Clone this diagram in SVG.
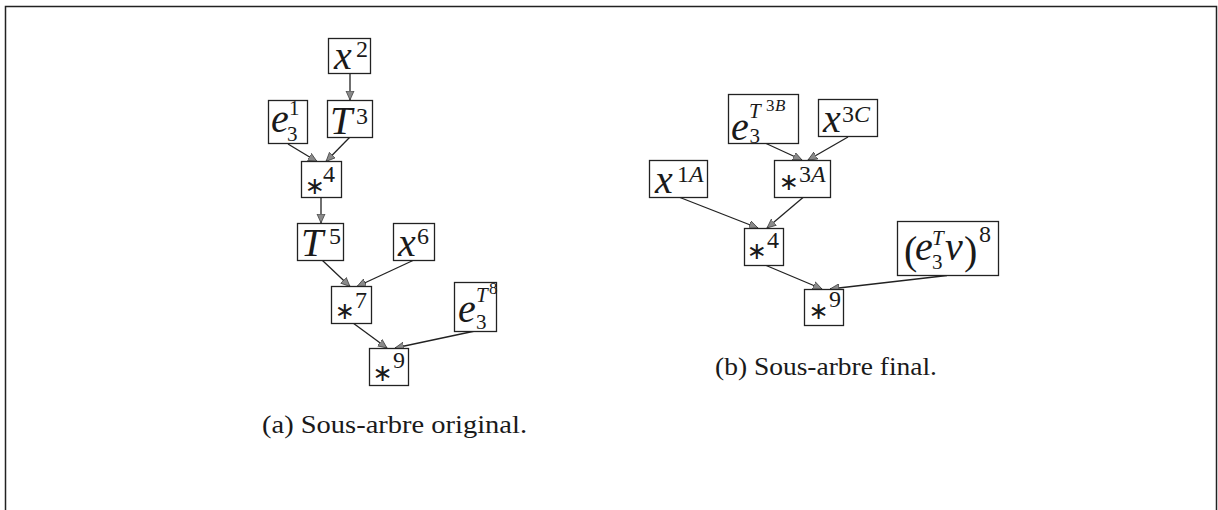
<svg xmlns="http://www.w3.org/2000/svg" width="1218" height="510" viewBox="0 0 1218 510">
<style>
.box{fill:#fff;stroke:#222;stroke-width:1.3}
.t{font-family:"Liberation Serif","Times New Roman",serif;font-size:40px;fill:#1a1a1a}
.m{font-style:italic;font-size:40px}
.u{font-style:normal;font-size:40px}
.s{font-style:normal;font-size:24px}
.s2{font-style:normal;font-size:21px}
.si{font-style:italic;font-size:24px}
.si2{font-style:italic;font-size:21px}
.ss{font-style:normal;font-size:17px}
.ssi{font-style:italic;font-size:17px}
.ast{font-family:"DejaVu Sans",sans-serif;font-style:normal;font-size:24px}
.cap{font-family:"Liberation Serif","Times New Roman",serif;font-size:26px;fill:#1a1a1a}
.edge{stroke:#222;stroke-width:1.3;fill:none;marker-end:url(#ah)}
</style>
<defs>
<marker id="ah" markerUnits="userSpaceOnUse" markerWidth="11" markerHeight="10" refX="9" refY="4.5" orient="auto">
<path d="M0,0.5 L9,4.5 L0,8.5 Z" fill="#8a8a8a" stroke="#333" stroke-width="0.7"/>
</marker>
</defs>
<rect width="1218" height="510" fill="#fff"/>
<path d="M5.5,510 V6.5 H1216.5 V510" fill="none" stroke="#222" stroke-width="1.5"/>

<g id="connectors">
<line class="edge" x1="350" y1="73" x2="350" y2="100"/>
<line class="edge" x1="288" y1="144" x2="317" y2="161.5"/>
<line class="edge" x1="350" y1="137" x2="326" y2="161.5"/>
<line class="edge" x1="321" y1="197" x2="321" y2="223"/>
<line class="edge" x1="322" y1="260" x2="350" y2="286.5"/>
<line class="edge" x1="414" y1="260" x2="357" y2="286.5"/>
<line class="edge" x1="353" y1="323" x2="387" y2="348"/>
<line class="edge" x1="475" y1="331" x2="395" y2="348"/>
<line class="edge" x1="765" y1="143" x2="802" y2="160"/>
<line class="edge" x1="848" y1="137" x2="808" y2="160"/>
<line class="edge" x1="680" y1="197.5" x2="758" y2="228"/>
<line class="edge" x1="803" y1="197.5" x2="767" y2="228"/>
<line class="edge" x1="765" y1="265" x2="822" y2="289"/>
<line class="edge" x1="947" y1="275.5" x2="830" y2="289"/>
</g>

<g id="a_x2">
<rect class="box" x="328.5" y="38.5" width="42" height="35"/>
<text class="t"><tspan class="m" x="334" y="69">x</tspan><tspan class="s" x="356" y="57">2</tspan></text>
</g>
<g id="a_e31">
<rect class="box" x="268.5" y="100.5" width="39" height="43"/>
<text class="t"><tspan class="m" x="271" y="132">e</tspan><tspan class="s2" x="289" y="115">1</tspan><tspan class="s2" x="287" y="141">3</tspan></text>
</g>
<g id="a_T3">
<rect class="box" x="327.5" y="100.5" width="45" height="37"/>
<text class="t"><tspan class="m" x="330" y="134">T</tspan><tspan class="s" x="356" y="124">3</tspan></text>
</g>
<g id="a_mul4">
<rect class="box" x="301.5" y="161.5" width="40" height="36"/>
<text class="t"><tspan class="ast" x="304.7" y="194.2">∗</tspan><tspan class="s" x="323" y="182">4</tspan></text>
</g>
<g id="a_T5">
<rect class="box" x="297.5" y="223.5" width="46" height="37"/>
<text class="t"><tspan class="m" x="301" y="256">T</tspan><tspan class="s" x="329" y="244">5</tspan></text>
</g>
<g id="a_x6">
<rect class="box" x="393.5" y="223.5" width="41" height="37"/>
<text class="t"><tspan class="m" x="398" y="256">x</tspan><tspan class="s" x="417" y="244">6</tspan></text>
</g>
<g id="a_mul7">
<rect class="box" x="331.5" y="286.5" width="40" height="37"/>
<text class="t"><tspan class="ast" x="334.7" y="319.2">∗</tspan><tspan class="s" x="355" y="308">7</tspan></text>
</g>
<g id="a_e3T8">
<rect class="box" x="454.5" y="282.5" width="42" height="49"/>
<text class="t"><tspan class="m" x="458" y="322">e</tspan><tspan class="si2" x="476" y="302">T</tspan><tspan class="ss" x="489" y="294">8</tspan><tspan class="s2" x="476" y="329">3</tspan></text>
</g>
<g id="a_mul9">
<rect class="box" x="369.5" y="348.5" width="39" height="37"/>
<text class="t"><tspan class="ast" x="372.5" y="381.2">∗</tspan><tspan class="s" x="393" y="368">9</tspan></text>
</g>
<text class="cap" x="262" y="433" textLength="265" lengthAdjust="spacingAndGlyphs">(a) Sous-arbre original.</text>

<g id="b_e3T3B">
<rect class="box" x="728.5" y="94.5" width="70" height="49"/>
<text class="t"><tspan class="m" x="731" y="140">e</tspan><tspan class="si2" x="749" y="118">T</tspan><tspan class="ss" x="766" y="111">3</tspan><tspan class="ssi" x="775" y="111">B</tspan><tspan class="s2" x="749.5" y="143">3</tspan></text>
</g>
<g id="b_x3C">
<rect class="box" x="818.5" y="99.5" width="59" height="37"/>
<text class="t"><tspan class="m" x="823" y="132">x</tspan><tspan class="s" x="842" y="122">3</tspan><tspan class="si" x="854" y="122">C</tspan></text>
</g>
<g id="b_x1A">
<rect class="box" x="649.5" y="160.5" width="58" height="37"/>
<text class="t"><tspan class="m" x="655" y="193">x</tspan><tspan class="s" x="677" y="182">1</tspan><tspan class="si" x="689" y="182">A</tspan></text>
</g>
<g id="b_mul3A">
<rect class="box" x="774.5" y="160.5" width="56" height="37"/>
<text class="t"><tspan class="ast" x="778.7" y="190.2">∗</tspan><tspan class="s" x="799" y="182">3</tspan><tspan class="si" x="811" y="182">A</tspan></text>
</g>
<g id="b_mul4">
<rect class="box" x="744.5" y="228.5" width="39" height="37"/>
<text class="t"><tspan class="ast" x="746.7" y="258.7">∗</tspan><tspan class="s" x="767" y="248">4</tspan></text>
</g>
<g id="b_e3Tv8">
<rect class="box" x="897.5" y="221.5" width="101" height="54"/>
<text class="t"><tspan class="u" x="904" y="264">(</tspan><tspan class="m" x="915" y="260">e</tspan><tspan class="si2" x="932" y="245">T</tspan><tspan class="s2" x="932" y="269">3</tspan><tspan class="m" x="945" y="260">v</tspan><tspan class="u" x="964" y="264">)</tspan><tspan class="s" x="979" y="242">8</tspan></text>
</g>
<g id="b_mul9">
<rect class="box" x="804.5" y="289.5" width="39" height="36"/>
<text class="t"><tspan class="ast" x="808.5" y="318.7">∗</tspan><tspan class="s" x="829" y="307">9</tspan></text>
</g>
<text class="cap" x="715" y="375" textLength="222" lengthAdjust="spacingAndGlyphs">(b) Sous-arbre final.</text>
</svg>
